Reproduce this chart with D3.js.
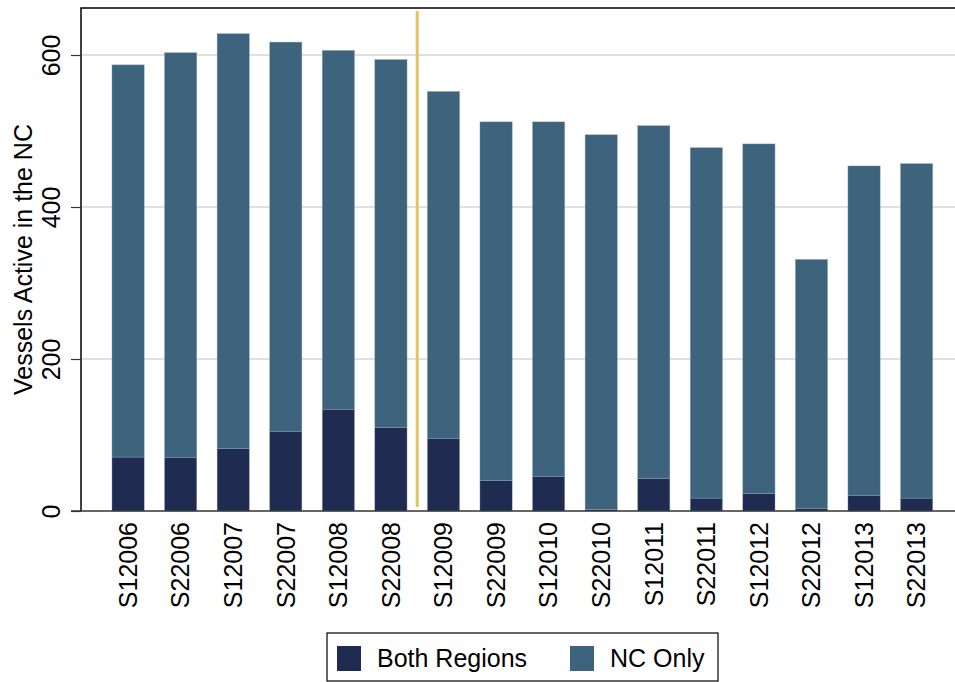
<!DOCTYPE html>
<html>
<head>
<meta charset="utf-8">
<script src="https://cdn.jsdelivr.net/npm/d3@7"></script>
<style>
  body { margin: 0; background: #fff; }
  svg { display: block; font-family: "Liberation Sans", Arial, sans-serif; }
</style>
</head>
<body>
<div id="chart"></div>
<script>
// survey periods (semester + year)
const periods = ['S12006', 'S22006', 'S12007', 'S22007', 'S12008', 'S22008', 'S12009', 'S22009',
  'S12010', 'S22010', 'S12011', 'S22011', 'S12012', 'S22012', 'S12013', 'S22013'];
// vessels active in both regions
const bothRegions = [71, 70, 82, 105, 134, 110, 95, 40, 45, 2, 43, 17, 23, 3, 20, 17];
// vessels active in the NC only
const ncOnly = [516, 533, 546, 512, 472, 484, 457, 472, 467, 493, 464, 461, 460, 328, 434, 440];
const yTicks = [0, 200, 400, 600];
const seriesNames = ['Both Regions', 'NC Only'];
const colors = ['#1f2b51', '#3e637d'];
const breakAfter = 'S22008'; // vertical marker between S22008 and S12009

const W = 955, H = 682;
const mLeft = 81, mTop = 8, mBottom = 511, mRight = 962;
const fs = 25;

const svg = d3.select('#chart').append('svg')
  .attr('width', W).attr('height', H);

const x = d3.scaleBand()
  .domain(periods)
  .range([85.7, 959])
  .paddingInner(0.3875)
  .paddingOuter(0.5);

const y = d3.scaleLinear()
  .domain([0, 600])
  .range([mBottom, 55]);

// gridlines
svg.append('g')
  .selectAll('line')
  .data(yTicks.filter(d => d > 0))
  .join('line')
  .attr('x1', mLeft).attr('x2', mRight)
  .attr('y1', d => y(d)).attr('y2', d => y(d))
  .attr('stroke', '#e0e0e0')
  .attr('stroke-width', 1.8);

// stacked bars
const rows = periods.map((p, i) => ({period: p, both: bothRegions[i], nc: ncOnly[i]}));
const stacked = d3.stack().keys(['both', 'nc'])(rows);

svg.append('g')
  .selectAll('g')
  .data(stacked)
  .join('g')
  .attr('fill', (d, i) => colors[i])
  .selectAll('rect')
  .data(d => d)
  .join('rect')
  .attr('x', d => x(d.data.period))
  .attr('width', x.bandwidth())
  .attr('y', d => y(d[1]))
  .attr('height', d => y(d[0]) - y(d[1]))
  .attr('stroke', '#8aa0b4')
  .attr('stroke-width', 0.4);

// vertical marker line
const idx = periods.indexOf(breakAfter);
const xm = (x(periods[idx]) + x.bandwidth() + x(periods[idx + 1])) / 2;
svg.append('line')
  .attr('x1', xm).attr('x2', xm)
  .attr('y1', 11).attr('y2', 507)
  .attr('stroke', '#dfc565')
  .attr('stroke-width', 3);

// frame (right edge runs off the picture)
svg.append('path')
  .attr('d', `M${mRight},${mTop}H${mLeft}V${mBottom}`)
  .attr('fill', 'none')
  .attr('stroke', '#000')
  .attr('stroke-width', 1.5);

// y axis
const yAxis = svg.append('g')
  .attr('transform', `translate(${mLeft},0)`)
  .call(d3.axisLeft(y).tickValues(yTicks).tickSize(10).tickPadding(0).tickFormat(d3.format('d')));
yAxis.select('.domain').remove();
yAxis.selectAll('.tick line').attr('stroke', '#333').attr('stroke-width', 1.2);
yAxis.selectAll('.tick text')
  .attr('font-size', fs)
  .attr('fill', '#000')
  .attr('text-anchor', 'middle')
  .attr('transform', 'translate(-21,0) rotate(-90)')
  .attr('x', 0).attr('dy', 0).attr('y', 0);

// x axis baseline
svg.append('line')
  .attr('x1', mLeft - 10).attr('x2', mRight)
  .attr('y1', mBottom).attr('y2', mBottom)
  .attr('stroke', '#333').attr('stroke-width', 1.5);

// x labels
const xAxis = svg.append('g')
  .attr('transform', `translate(0,${mBottom})`)
  .call(d3.axisBottom(x).tickSize(0).tickPadding(0));
xAxis.select('.domain').remove();
xAxis.selectAll('.tick text')
  .attr('font-size', fs)
  .attr('fill', '#000')
  .attr('text-anchor', 'end')
  .attr('transform', 'rotate(-90)')
  .attr('x', -11).attr('y', 0).attr('dy', '0.35em');

// axis title
svg.append('text')
  .attr('transform', `translate(32,${(mTop + mBottom) / 2}) rotate(-90)`)
  .attr('text-anchor', 'middle')
  .attr('font-size', fs)
  .text('Vessels Active in the NC');

// legend
const lg = svg.append('g');
lg.append('rect')
  .attr('x', 327).attr('y', 633).attr('width', 391).attr('height', 48)
  .attr('fill', '#fff').attr('stroke', '#000').attr('stroke-width', 1.2);
const legendX = [337, 570];
seriesNames.forEach((name, i) => {
  lg.append('rect')
    .attr('x', legendX[i]).attr('y', 646).attr('width', 24).attr('height', 25)
    .attr('fill', colors[i]);
  lg.append('text')
    .attr('x', legendX[i] + 40).attr('y', 667)
    .attr('font-size', fs)
    .text(name);
});
</script>
</body>
</html>
